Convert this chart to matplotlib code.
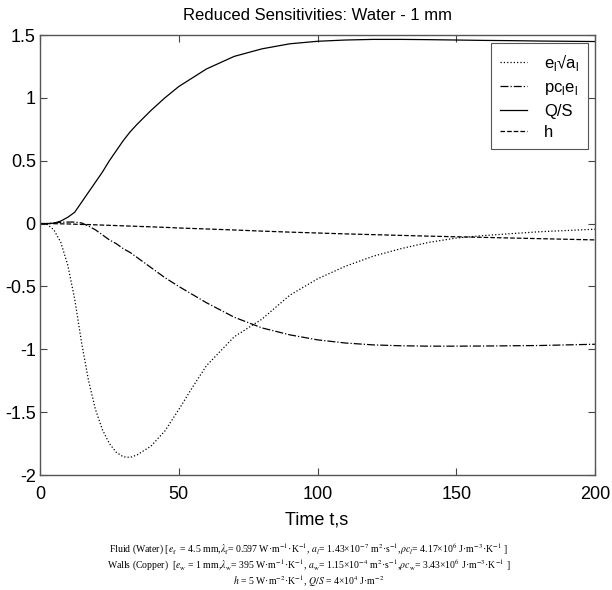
import numpy as np
import matplotlib
matplotlib.use("Agg")
import matplotlib.pyplot as plt

plt.rcParams['font.family'] = ['Liberation Sans', 'DejaVu Sans']
plt.rcParams['mathtext.fontset'] = 'custom'
plt.rcParams['mathtext.rm'] = 'Liberation Sans'

# time grid (s)
t = [0, 2.5, 5, 7.5, 10, 12.5, 15, 17.5, 20, 22.5, 25, 27.5, 30, 32.5, 35,
     40, 45, 50, 55, 60, 70, 80, 90, 100, 110, 120, 130, 140, 150, 160,
     170, 180, 190, 200]

# reduced sensitivities
s_ea = [0, -0.005, -0.05, -0.15, -0.33, -0.6, -0.95, -1.25, -1.48, -1.64,
        -1.75, -1.82, -1.855, -1.86, -1.84, -1.77, -1.65, -1.48, -1.3, -1.13,
        -0.9, -0.76, -0.57, -0.44, -0.34, -0.26, -0.2, -0.15, -0.115, -0.095,
        -0.08, -0.065, -0.055, -0.045]
s_pce = [0, 0, 0.005, 0.01, 0.012, 0.012, 0.005, -0.02, -0.05, -0.09,
         -0.13, -0.16, -0.2, -0.23, -0.27, -0.35, -0.43, -0.5, -0.565, -0.63,
         -0.745, -0.83, -0.885, -0.925, -0.95, -0.965, -0.972, -0.975, -0.975,
         -0.974, -0.972, -0.97, -0.965, -0.96]
s_qs = [0, 0, 0.003, 0.02, 0.05, 0.09, 0.17, 0.25, 0.33, 0.41,
        0.5, 0.58, 0.66, 0.73, 0.79, 0.9, 1.0, 1.09, 1.16, 1.23,
        1.33, 1.39, 1.43, 1.45, 1.46, 1.465, 1.465, 1.463, 1.46, 1.457,
        1.455, 1.452, 1.45, 1.448]
s_h = [0, 0, -0.001, -0.002, -0.003, -0.005, -0.007, -0.008, -0.01, -0.012,
       -0.014, -0.016, -0.018, -0.02, -0.022, -0.026, -0.03, -0.035, -0.039,
       -0.043, -0.051, -0.06, -0.068, -0.075, -0.082, -0.088, -0.094, -0.1,
       -0.105, -0.11, -0.115, -0.12, -0.125, -0.13]

labels = [r'e$_\mathregular{l}$√a$_\mathregular{l}$',
          r'pc$_\mathregular{l}$e$_\mathregular{l}$', 'Q/S', 'h']

fig = plt.figure(figsize=(6.12, 5.90), dpi=100)
ax = fig.add_axes([40/612, 1-475/590, 555/612, 440/590])

ax.plot(t, s_ea, ':', color='black', lw=0.9, label=labels[0])
ax.plot(t, s_pce, '-.', color='black', lw=0.9, label=labels[1])
ax.plot(t, s_qs, '-', color='black', lw=0.9, label=labels[2])
ax.plot(t, s_h, '--', color='black', lw=0.9, label=labels[3])

ax.set_xlim(0, 200)
ax.set_ylim(-2, 1.5)
ax.set_xticks([0, 50, 100, 150, 200])
ax.set_yticks([-2, -1.5, -1, -0.5, 0, 0.5, 1, 1.5])
ax.set_yticklabels(['-2', '-1.5', '-1', '-0.5', '0', '0.5', '1', '1.5'])
ax.tick_params(direction='in', top=True, right=True, length=5,
               labelsize=13, color='#444444')
ax.tick_params(axis='y', pad=3)
ax.tick_params(axis='x', pad=8)
for sp in ax.spines.values():
    sp.set_color('#555555')
    sp.set_linewidth(1.0)

ax.set_title('Reduced Sensitivities: Water - 1 mm', fontsize=12, pad=11)
fig.text(317/612, 1-520/590, 'Time t,s', fontsize=13, ha='center', va='center')

leg = ax.legend(loc='upper right', bbox_to_anchor=((588-40)/555, 1-(43-35)/440),
                borderaxespad=0, fontsize=12, handlelength=1.65,
                handletextpad=1.0, borderpad=0.55, labelspacing=0.4,
                fancybox=False, framealpha=1, edgecolor='#555555')
leg.get_frame().set_linewidth(0.8)

# parameters caption
plt.rcParams['mathtext.fontset'] = 'stix'
cap_lines = [
    "Fluid (Water) [$e_{\\rm f}$  = 4.5 mm,$\\lambda_{\\rm f}$= 0.597 W·m$^{-1}$·K$^{-1}$, "
    "$a_l$= 1.43×10$^{-7}$ m$^2$·s$^{-1}$,$\\rho c_l$= 4.17×10$^6$ J·m$^{-3}$·K$^{-1}$ ]",
    "Walls (Copper)  [$e_{\\rm w}$ = 1 mm,$\\lambda_{\\rm w}$= 395 W·m$^{-1}$·K$^{-1}$, "
    "$a_{\\rm w}$= 1.15×10$^{-4}$ m$^2$·s$^{-1}$,$\\rho c_{\\rm w}$= 3.43×10$^6$ J·m$^{-3}$·K$^{-1}$ ]",
    "$h$ = 5 W·m$^{-2}$·K$^{-1}$, $Q/S$ = 4×10$^4$ J·m$^{-2}$",
]
cap_y = [549, 565, 581]
for line, yy in zip(cap_lines, cap_y):
    fig.text(309/612, 1-yy/590, line, fontsize=7, ha='center', va='center',
             family=['Liberation Serif', 'DejaVu Serif'])

fig.savefig('out.png', dpi=100)
